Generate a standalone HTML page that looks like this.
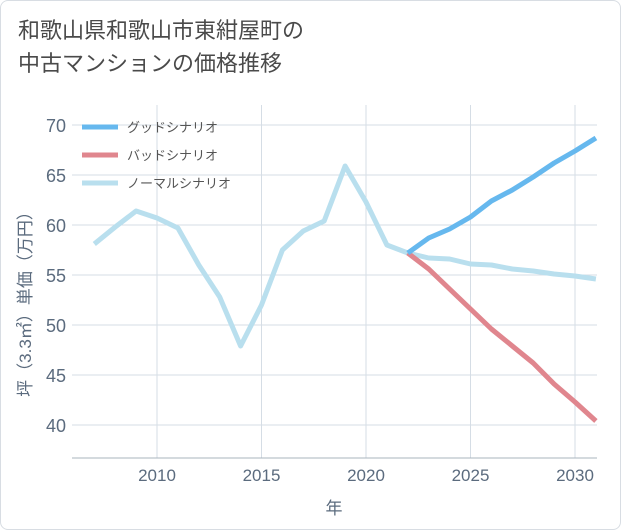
<!DOCTYPE html>
<html><head><meta charset="utf-8"><style>
body{margin:0;background:#fff;font-family:"Liberation Sans","Noto Sans CJK JP",sans-serif;}
#card{position:absolute;left:0;top:0;width:619px;height:528px;border:1px solid #d8dde3;border-radius:8px;background:#fff;}
#title{position:absolute;left:18px;top:14px;font-size:22px;line-height:33px;color:#4a4a4a;}
</style></head><body>
<div id="card"></div>
<div id="title">和歌山県和歌山市東紺屋町の<br>中古マンションの価格推移</div>
<svg id="chart" width="621" height="530" style="position:absolute;left:0;top:0"></svg>
<script>
const years=[2007,2008,2009,2010,2011,2012,2013,2014,2015,2016,2017,2018,2019,2020,2021,2022,2023,2024,2025,2026,2027,2028,2029,2030,2031];
const normal=[58.1,59.8,61.4,60.7,59.7,56,52.8,47.9,52,57.5,59.4,60.4,65.9,62.3,58,57.2,56.7,56.6,56.1,56.0,55.6,55.4,55.1,54.9,54.6];
const fyears=[2022,2023,2024,2025,2026,2027,2028,2029,2030,2031];
const good=[57.2,58.7,59.6,60.8,62.4,63.5,64.8,66.2,67.4,68.7];
const bad=[57.2,55.6,53.6,51.6,49.6,47.9,46.2,44.1,42.3,40.4];
const yTicks=[40,45,50,55,60,65,70];
const xTicks=[2010,2015,2020,2025,2030];
const L=72,R=597,T=105,B=458;
const x=v=>157+(v-2010)*20.9;
const y=v=>125+(70-v)*10;
const svg=document.getElementById('chart');const NS='http://www.w3.org/2000/svg';
function mk(t,a){const e=document.createElementNS(NS,t);for(const k in a)e.setAttribute(k,a[k]);svg.appendChild(e);return e;}
const bg=mk('rect',{x:L,y:T,width:R-L,height:B-T,fill:'#fff'});


for(const v of yTicks){const g=mk('line',{x1:L,x2:R,y1:y(v),y2:y(v),stroke:'#d5dde5','stroke-width':1});


const t=mk('text',{x:66,y:y(v)+7,'text-anchor':'end','font-size':18,fill:'#5b6b7e'});t.textContent=v;

}
for(const v of xTicks){const g=mk('line',{x1:x(v),x2:x(v),y1:T,y2:B,stroke:'#d5dde5','stroke-width':1});


const t=mk('text',{x:x(v),y:481,'text-anchor':'middle','font-size':17,fill:'#5b6b7e'});t.textContent=v;

}
const ax=mk('line',{x1:L,x2:R,y1:B,y2:B,stroke:'#aab4be','stroke-width':1});


function series(xs,ys,c,n){const p=mk('polyline',{points:xs.map((v,i)=>x(v)+','+y(ys[i])).join(' '),fill:'none',stroke:c,'stroke-width':5,'stroke-linejoin':'round'});

}
series(years,normal,'#b9dfee','normal-line');
series(fyears,bad,'#e0868e','bad-line');
series(fyears,good,'#66b8ee','good-line');
const leg=[['グッドシナリオ','#66b8ee',127],['バッドシナリオ','#e0868e',155],['ノーマルシナリオ','#b9dfee',183]];
for(const [lab,c,yy] of leg){const l=mk('line',{x1:82,x2:118,y1:yy,y2:yy,stroke:c,'stroke-width':5});


const t=mk('text',{x:127,y:yy+5,'font-size':13,fill:'#555'});t.textContent=lab;

}
const xt=mk('text',{x:334,y:514,'text-anchor':'middle','font-size':17,fill:'#5b6b7e'});xt.textContent='年';


const yt=mk('text',{x:0,y:0,'text-anchor':'middle','font-size':17,fill:'#5b6b7e',transform:'translate(31,300) rotate(-90)'});yt.textContent='坪（3.3㎡）単価（万円）';


</script>
</body></html>
